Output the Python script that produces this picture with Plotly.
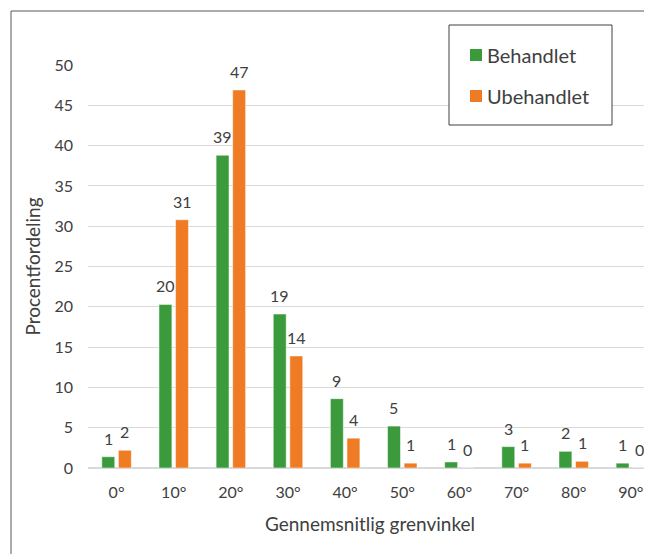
import plotly.graph_objects as go

categories = ["0°", "10°", "20°", "30°", "40°", "50°", "60°", "70°", "80°", "90°"]
behandlet = [1.4, 20.3, 38.8, 19.1, 8.6, 5.2, 0.75, 2.65, 2.07, 0.6]
ubehandlet = [2.2, 30.8, 46.9, 13.9, 3.7, 0.6, 0.0, 0.6, 0.83, 0.0]
series_names = ["Behandlet", "Ubehandlet"]
colors = ["#3A9A3C", "#EF7C24"]
y_ticks = [0, 5, 10, 15, 20, 25, 30, 35, 40, 45, 50]

OFF = 8  # page body margin
W, H = 652 - OFF, 554 - OFF
L, R, T, B = 88 - OFF, 0, 65 - OFF, 86
PW, PH = W - L - R, H - T - B
FONT = "Lato, 'Open Sans', sans-serif"
TXT = "#404040"


def px(x):
    return (x - OFF - L) / PW


def py(y):
    return (H - B - (y - OFF)) / PH


fig = go.Figure()
for name, vals, col in zip(series_names, [behandlet, ubehandlet], colors):
    fig.add_trace(go.Bar(x=categories, y=vals, name=name, marker_color=col,
                         marker_line=dict(color="white", width=0.5), showlegend=False))

shapes = [
    dict(type="line", xref="paper", yref="paper", x0=px(11), x1=px(660), y0=py(11), y1=py(11),
         line=dict(color="#595959", width=1)),
    dict(type="line", xref="paper", yref="paper", x0=px(11), x1=px(11), y0=py(11), y1=py(560),
         line=dict(color="#595959", width=1)),
    dict(type="rect", xref="paper", yref="paper", x0=px(449), x1=px(612), y0=py(25), y1=py(125),
         line=dict(color="#404040", width=1), fillcolor="white", layer="above"),
]
annotations = []
# data labels above bars
for vals, xs in [(behandlet, -8.3), (ubehandlet, 8.3)]:
    for c, v in zip(categories, vals):
        annotations.append(dict(x=c, y=v, xref="x", yref="y", text=f"{v:.0f}", showarrow=False,
                                xanchor="center", yanchor="bottom", xshift=xs, yshift=7,
                                font=dict(size=16, color=TXT, family=FONT)))
# legend
for i, (name, col) in enumerate(zip(series_names, colors)):
    cy = 55 + 41 * i
    shapes.append(dict(type="rect", xref="paper", yref="paper", x0=px(470), x1=px(482),
                       y0=py(cy - 6), y1=py(cy + 6), line=dict(width=0), fillcolor=col, layer="above"))
    annotations.append(dict(xref="paper", yref="paper", x=px(485), y=py(cy), text=name,
                            xanchor="left", yanchor="middle", showarrow=False,
                            font=dict(size=20, color=TXT, family=FONT)))

fig.update_layout(
    width=W, height=H,
    margin=dict(l=L, r=R, t=T, b=B),
    paper_bgcolor="white", plot_bgcolor="white",
    barmode="group", bargap=0.42, bargroupgap=0.22,
    font=dict(family=FONT, color=TXT, size=16),
    shapes=shapes, annotations=annotations,
    showlegend=False,
)
fig.update_xaxes(
    type="category", range=[-0.5, 9.37],
    showline=True, linecolor="#d9d9d9", linewidth=1,
    showgrid=False, ticks="", ticklabelstandoff=10,
    tickfont=dict(size=16, color=TXT),
    title=dict(text="Gennemsnitlig grenvinkel", font=dict(size=19, color=TXT), standoff=17),
)
fig.update_yaxes(
    range=[0, 50], tickvals=y_ticks,
    showgrid=True, gridcolor="#d9d9d9", gridwidth=1,
    zeroline=True, zerolinecolor="#d9d9d9",
    ticks="", ticklabelstandoff=14,
    tickfont=dict(size=16, color=TXT),
    title=dict(text="Procentfordeling", font=dict(size=19, color=TXT), standoff=8),
)

fig.write_html("out.html")
